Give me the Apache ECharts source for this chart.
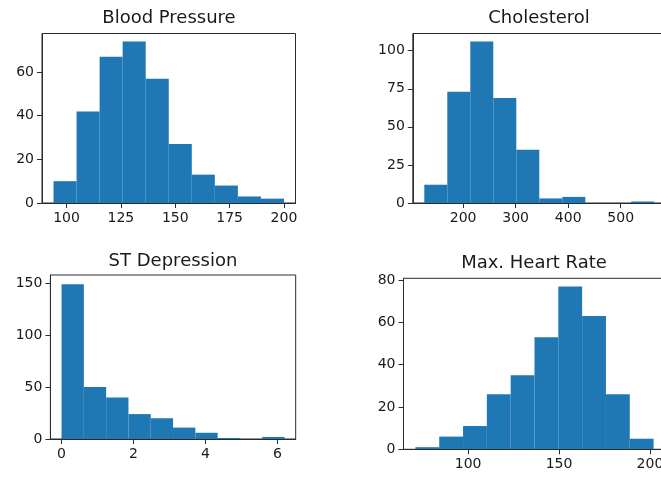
<!DOCTYPE html>
<html>
<head>
<meta charset="utf-8">
<script src="https://cdn.jsdelivr.net/npm/echarts@6/dist/echarts.min.js"></script>
<style>
  html, body { margin: 0; padding: 0; background: #fff; }
  #chart { width: 661px; height: 477px; }
</style>
</head>
<body>
<div id="chart"></div>
<script>
// histogram bin edges and counts
const bpEdges = [94, 104.6, 115.2, 125.8, 136.4, 147, 157.6, 168.2, 178.8, 189.4, 200];
const bpCounts = [10, 42, 67, 74, 57, 27, 13, 8, 3, 2];

const cholEdges = [126, 169.8, 213.6, 257.4, 301.2, 345, 388.8, 432.6, 476.4, 520.2, 564];
const cholCounts = [12, 73, 106, 69, 35, 3, 4, 0, 0, 1];

const stEdges = [0, 0.62, 1.24, 1.86, 2.48, 3.1, 3.72, 4.34, 4.96, 5.58, 6.2];
const stCounts = [149, 50, 40, 24, 20, 11, 6, 1, 0, 2];

const hrEdges = [71, 84.1, 97.2, 110.3, 123.4, 136.5, 149.6, 162.7, 175.8, 188.9, 202];
const hrCounts = [1, 6, 11, 26, 35, 53, 77, 63, 26, 5];

const titles = ["Blood Pressure", "Cholesterol", "ST Depression", "Max. Heart Rate"];

const bpXTicks = [100, 125, 150, 175, 200];
const bpYTicks = [0, 20, 40, 60];
const cholXTicks = [200, 300, 400, 500];
const cholYTicks = [0, 25, 50, 75, 100];
const stXTicks = [0, 2, 4, 6];
const stYTicks = [0, 50, 100, 150];
const hrXTicks = [100, 150, 200];
const hrYTicks = [0, 20, 40, 60, 80];

const panels = [
  { edges: bpEdges, counts: bpCounts, xTicks: bpXTicks, yTicks: bpYTicks,
    xMin: 88.7, xMax: 205.3, yMax: 77.7,
    grid: { left: 42, top: 33.5, width: 253.5, height: 169.5 }, titleX: 169, titleY: 9 },
  { edges: cholEdges, counts: cholCounts, xTicks: cholXTicks, yTicks: cholYTicks,
    xMin: 104.1, xMax: 585.9, yMax: 111.3,
    grid: { left: 412.8, top: 33.5, width: 253, height: 169.5 }, titleX: 539, titleY: 9 },
  { edges: stEdges, counts: stCounts, xTicks: stXTicks, yTicks: stYTicks,
    xMin: -0.31, xMax: 6.51, yMax: 158,
    grid: { left: 50.4, top: 275, width: 245.3, height: 164 }, titleX: 173, titleY: 252 },
  { edges: hrEdges, counts: hrCounts, xTicks: hrXTicks, yTicks: hrYTicks,
    xMin: 64.45, xMax: 208.55, yMax: 80.85,
    grid: { left: 403.5, top: 278.3, width: 262, height: 171 }, titleX: 534, titleY: 254 },
];

const axisColor = "#2b2b2b";
const textColor = "#1a1a1a";
const font = "DejaVu Sans";

function renderBin(params, api) {
  const p0 = api.coord([api.value(0), api.value(2)]);
  const p1 = api.coord([api.value(1), 0]);
  return {
    type: "rect",
    shape: { x: p0[0], y: p0[1], width: p1[0] - p0[0], height: p1[1] - p0[1] },
    style: { fill: "#1f77b4" },
  };
}

const chart = echarts.init(document.getElementById("chart"));

chart.setOption({
  animation: false,
  title: panels.map((p, i) => ({
    text: titles[i],
    left: p.titleX,
    top: p.titleY,
    textAlign: "center",
    padding: 0,
    textStyle: { fontFamily: font, fontSize: 18, fontWeight: "normal", color: textColor },
  })),
  grid: panels.map((p) => ({
    ...p.grid,
    show: true,
    borderColor: axisColor,
    borderWidth: 1,
    backgroundColor: "transparent",
    containLabel: false,
    outerBoundsMode: "none",
  })),
  xAxis: panels.map((p, i) => ({
    type: "value",
    gridIndex: i,
    min: p.xMin,
    max: p.xMax,
    z: 5,
    splitLine: { show: false },
    axisLine: { show: true, onZero: false, lineStyle: { color: axisColor, width: 1 } },
    axisTick: { show: true, length: 5, customValues: p.xTicks, lineStyle: { color: axisColor } },
    axisLabel: { customValues: p.xTicks, margin: 8, fontFamily: font, fontSize: 14, color: textColor },
  })),
  yAxis: panels.map((p, i) => ({
    type: "value",
    gridIndex: i,
    min: 0,
    max: p.yMax,
    z: 5,
    splitLine: { show: false },
    axisLine: { show: true, onZero: false, lineStyle: { color: axisColor, width: 1 } },
    axisTick: { show: true, length: 5, customValues: p.yTicks, lineStyle: { color: axisColor } },
    axisLabel: { customValues: p.yTicks, margin: 8, fontFamily: font, fontSize: 14, color: textColor },
  })),
  series: panels.map((p, i) => ({
    type: "custom",
    xAxisIndex: i,
    yAxisIndex: i,
    renderItem: renderBin,
    encode: { x: [0, 1], y: 2 },
    data: p.counts.map((c, k) => [p.edges[k], p.edges[k + 1], c]),
  })),
});
</script>
</body>
</html>
